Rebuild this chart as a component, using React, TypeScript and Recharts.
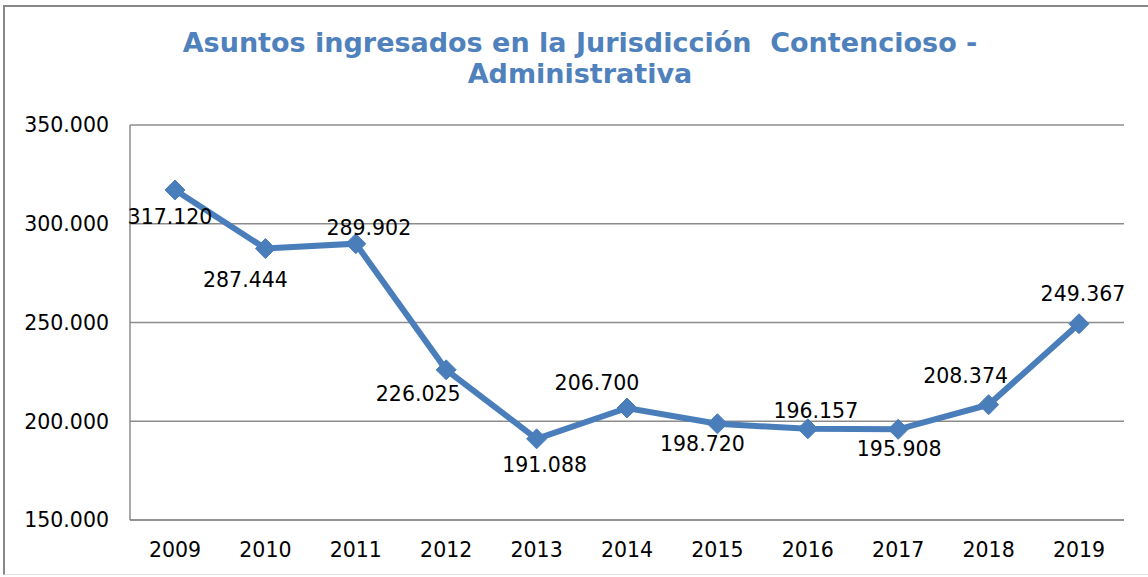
import React from 'react';
import { LineChart, Line, XAxis, YAxis, CartesianGrid } from 'recharts';

const years = ['2009', '2010', '2011', '2012', '2013', '2014', '2015', '2016', '2017', '2018', '2019'];
const asuntos = [317120, 287444, 289902, 226025, 191088, 206700, 198720, 196157, 195908, 208374, 249367];
const yTicks = [150000, 200000, 250000, 300000, 350000];
const titleLines = ['Asuntos ingresados en la Jurisdicción  Contencioso -', 'Administrativa'];

// label placement offsets (style, not data)
const labelDx = [-5, -20, 13, -28, 8, -30, -15, 8, 1, -23, 4];
const labelDy = [27, 31, -16, 24, 26, -25, 20, -18, 20, -29, -30];

const data = years.map((y, i) => ({ year: y, value: asuntos[i] }));

const fmt = (v: number) => String(v).replace(/\B(?=(\d{3})+(?!\d))/g, '.');

const FONT = '"DejaVu Sans", Verdana, sans-serif';
const BLUE = '#4A7EBB';

const DotWithLabel = (props: any) => {
  const { cx, cy, index, payload } = props;
  if (cx == null || cy == null) return null;
  const r = 10;
  return (
    <g key={`d-${index}`}>
      <polygon
        points={`${cx},${cy - r} ${cx + r},${cy} ${cx},${cy + r} ${cx - r},${cy}`}
        fill={BLUE}
        stroke={BLUE}
        strokeWidth={1}
      />
      <text
        x={cx + labelDx[index]}
        y={cy + labelDy[index]}
        textAnchor="middle"
        dominantBaseline="central"
        fontFamily={FONT}
        fontSize={20.5}
        fill="#000"
      >
        {fmt(payload.value)}
      </text>
    </g>
  );
};

export default function App() {
  return (
    <div style={{ position: 'absolute', left: 0, top: 0, width: 1148, height: 577, overflow: 'hidden', background: '#fff' }}>
      <div
        style={{
          position: 'absolute',
          left: 3,
          top: 5,
          width: 1160,
          height: 570,
          borderLeft: '2px solid #888',
          borderTop: '2px solid #888',
          borderBottom: '1px solid #e2e2e2',
          boxSizing: 'border-box',
        }}
      />
      <div
        style={{
          position: 'absolute',
          left: 0,
          top: 27,
          width: 1160,
          textAlign: 'center',
          fontFamily: FONT,
          fontWeight: 'bold',
          fontSize: 27,
          lineHeight: '31px',
          color: '#4F81BD',
          whiteSpace: 'pre',
        }}
      >
        {titleLines.map((t) => (
          <div key={t}>{t}</div>
        ))}
      </div>
      <div style={{ position: 'absolute', left: 0, top: 0 }}>
        <LineChart width={1148} height={577} data={data} margin={{ top: 125, right: 24, bottom: 27, left: 0 }}>
          <CartesianGrid vertical={false} stroke="#8c8c8c" strokeWidth={1.5} />
          <XAxis
            dataKey="year"
            height={30}
            padding={{ left: 45, right: 45 }}
            axisLine={{ stroke: '#8c8c8c', strokeWidth: 1.5 }}
            tickLine={false}
            tickSize={0}
            tickMargin={22}
            tick={{ fill: '#000', fontSize: 20.5, fontFamily: FONT }}
            interval={0}
          />
          <YAxis
            width={130}
            domain={[150000, 350000]}
            ticks={yTicks}
            tickFormatter={fmt}
            axisLine={{ stroke: '#8c8c8c', strokeWidth: 1.5 }}
            tickLine={false}
            tickSize={0}
            tickMargin={21}
            tick={{ fill: '#000', fontSize: 20.5, fontFamily: FONT }}
          />
          <Line
            type="linear"
            dataKey="value"
            stroke={BLUE}
            strokeWidth={6}
            dot={DotWithLabel}
            activeDot={false}
            isAnimationActive={false}
          />
        </LineChart>
      </div>
    </div>
  );
}
